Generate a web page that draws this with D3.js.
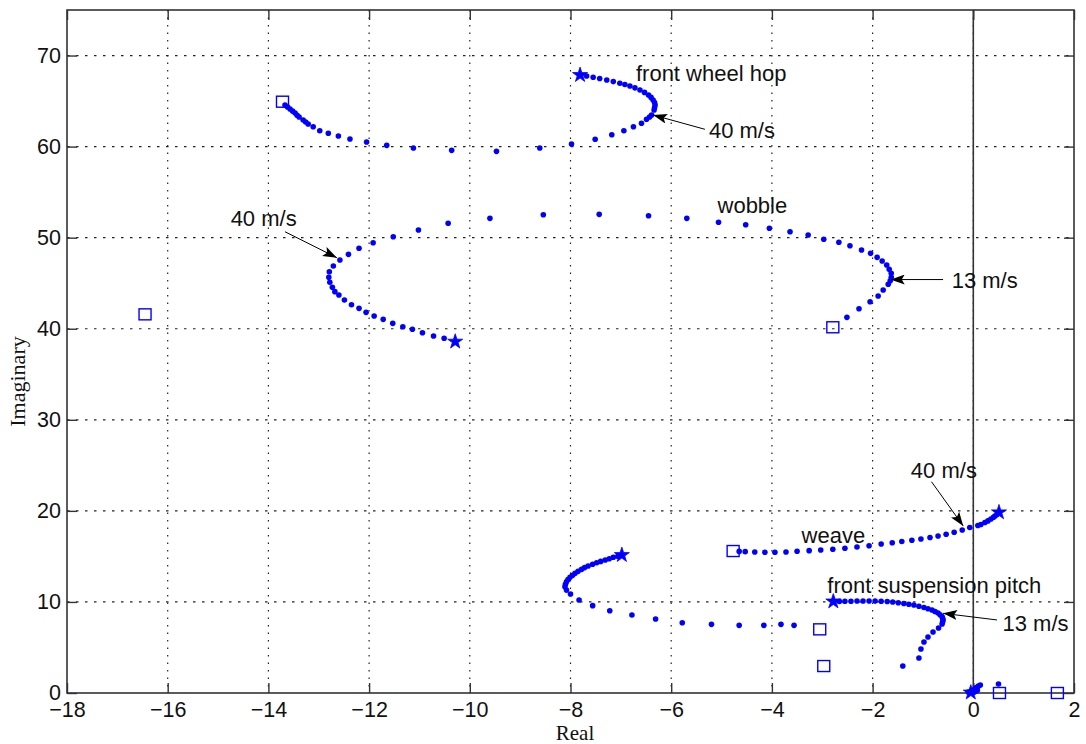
<!DOCTYPE html>
<html><head><meta charset="utf-8">
<script src="https://cdn.jsdelivr.net/npm/d3@7"></script>
<style>body{margin:0;background:#fff;} svg{display:block}</style>
</head><body><svg id="c" width="1086" height="744"></svg>
<script>
// ---- data ----
const xTicks = [-18,-16,-14,-12,-10,-8,-6,-4,-2,0,2];
const yTicks = [0,10,20,30,40,50,60,70];

const hopDots = [[-13.67,64.57],[-13.62,64.35],[-13.57,64.13],[-13.52,63.9],[-13.47,63.69],[-13.43,63.45],[-13.39,63.25],[-13.31,62.92],[-13.26,62.7],[-13.21,62.48],[-13.11,62.18],[-12.98,61.74],[-12.81,61.46],[-12.61,61.16],[-12.38,60.83],[-12.05,60.5],[-11.65,60.14],[-11.12,59.84],[-10.36,59.59],[-9.47,59.48],[-8.61,59.84],[-7.98,60.28],[-7.51,60.80],[-7.18,61.30],[-6.94,61.74],[-6.75,62.18],[-6.59,62.56],[-6.49,63.0],[-6.43,63.25],[-6.39,63.47],[-6.34,64.02],[-6.33,64.3],[-6.32,64.57],[-6.33,64.85],[-6.36,65.11],[-6.40,65.4],[-6.45,65.66],[-6.53,65.95],[-6.62,66.21],[-6.72,66.45],[-6.82,66.65],[-6.92,66.82],[-7.02,66.95],[-7.15,67.14],[-7.28,67.31],[-7.42,67.47],[-7.55,67.61],[-7.68,67.75]];
const hopStar = [-7.81,67.86];
const hopSquare = [-13.72,64.93];

const wobbleDots = [[-10.51,38.95],[-10.72,39.20],[-10.94,39.56],[-11.14,39.94],[-11.33,40.22],[-11.53,40.59],[-11.72,41.03],[-11.90,41.40],[-12.06,41.80],[-12.20,42.24],[-12.35,42.64],[-12.49,43.15],[-12.60,43.70],[-12.68,44.07],[-12.73,44.55],[-12.78,45.10],[-12.80,45.65],[-12.79,46.26],[-12.71,46.89],[-12.58,47.55],[-12.41,48.17],[-12.20,48.83],[-11.92,49.45],[-11.52,50.10],[-11.02,50.84],[-10.43,51.58],[-9.60,52.12],[-8.54,52.52],[-7.43,52.56],[-6.45,52.41],[-5.69,52.12],[-5.06,51.69],[-4.52,51.42],[-4.05,51.03],[-3.64,50.65],[-3.28,50.29],[-2.97,49.82],[-2.67,49.49],[-2.45,49.12],[-2.22,48.64],[-2.04,48.28],[-1.91,47.84],[-1.81,47.44],[-1.72,47.0],[-1.67,46.52],[-1.63,46.09],[-1.63,45.65],[-1.65,45.27],[-1.69,44.88],[-1.79,44.25],[-1.89,43.59],[-2.05,42.97],[-2.27,42.20],[-2.51,41.25]];
const wobbleStar = [-10.29,38.58];
const wobbleSquare = [-2.79,40.16];

const weaveDots = [[-4.65,15.55],[-4.53,15.52],[-4.34,15.48],[-4.14,15.45],[-3.94,15.45],[-3.72,15.48],[-3.50,15.56],[-3.26,15.63],[-3.03,15.70],[-2.79,15.78],[-2.55,15.89],[-2.31,16.03],[-2.07,16.17],[-1.83,16.36],[-1.61,16.50],[-1.42,16.64],[-1.22,16.78],[-1.04,16.91],[-0.86,17.07],[-0.70,17.24],[-0.54,17.43],[-0.38,17.65],[-0.22,17.90],[-0.07,18.17],[0.09,18.39],[0.15,18.5],[0.23,18.72],[0.29,18.9],[0.35,19.11],[0.40,19.3],[0.43,19.44],[0.47,19.6]];
const weaveStar = [0.51,19.84];
const weaveSquare = [-4.77,15.59];

const lowDots = [[-7.06,15.02],[-7.15,14.90],[-7.23,14.75],[-7.31,14.60],[-7.40,14.45],[-7.48,14.31],[-7.56,14.13],[-7.65,13.95],[-7.72,13.77],[-7.78,13.58],[-7.85,13.36],[-7.91,13.14],[-7.96,12.92],[-8.01,12.70],[-8.05,12.46],[-8.08,12.22],[-8.10,11.95],[-8.11,11.67],[-8.08,11.3],[-8.00,10.87],[-7.83,10.21],[-7.56,9.59],[-7.22,9.04],[-6.78,8.56],[-6.31,8.13],[-5.78,7.72],[-5.20,7.54],[-4.65,7.43],[-4.16,7.43],[-3.82,7.54],[-3.56,7.43]];
const lowStar = [-6.98,15.15];

const pitchDots = [[-2.66,10.06],[-2.55,10.07],[-2.43,10.08],[-2.31,10.10],[-2.19,10.10],[-2.07,10.10],[-1.95,10.09],[-1.83,10.08],[-1.71,10.04],[-1.60,9.99],[-1.49,9.91],[-1.38,9.83],[-1.28,9.75],[-1.18,9.66],[-1.08,9.53],[-0.98,9.39],[-0.90,9.25],[-0.82,9.11],[-0.76,8.95],[-0.70,8.78],[-0.66,8.6],[-0.62,8.40],[-0.61,8.2],[-0.60,8.02],[-0.61,7.8],[-0.62,7.58],[-0.69,7.14],[-0.80,6.70],[-0.90,6.15],[-0.98,5.60],[-1.04,4.83],[-1.08,3.84],[-1.40,2.96]];
const pitchStar = [-2.78,10.05];

const originDots = [[-0.1,0.1],[-0.05,0.15],[0.0,0.3],[0.02,0.1],[0.03,0.45],[0.05,0.2],[0.06,0.6],[0.08,0.3],[0.1,0.75],[0.14,0.88],[0.50,0.99]];
const originStar = [-0.05,0.05];

const otherSquares = [[-16.45,41.58],[-3.05,6.99],[-2.97,2.96],[0.52,0],[1.67,0]];

const labels = [
  {text:"front wheel hop", at:[-6.70,67.2]},
  {text:"40 m/s", at:[-5.25,60.94]},
  {text:"wobble", at:[-5.08,52.74]},
  {text:"40 m/s", at:[-14.75,51.28]},
  {text:"13 m/s", at:[-0.43,44.5]},
  {text:"40 m/s", at:[-1.24,23.58]},
  {text:"weave", at:[-3.41,16.5]},
  {text:"front suspension pitch", at:[-2.90,11.01]},
  {text:"13 m/s", at:[0.58,6.84]}
];
const arrows = [
  {from:[-5.33,61.9], to:[-6.36,63.47]},
  {from:[-13.67,50.65], to:[-12.64,47.80]},
  {from:[-0.60,45.4], to:[-1.64,45.4]},
  {from:[-0.83,23.2], to:[-0.20,18.34]},
  {from:[0.47,8.02], to:[-0.60,8.75]}
];

// ---- drawing ----
const svg = d3.select("#c");
const L=67, R=1074, T=10, B=693;
const x = d3.scaleLinear().domain([-18,2]).range([L,R]);
const y = d3.scaleLinear().domain([0,75]).range([B,T]);
const blue = "#0000ff";
const sans = "'Liberation Sans', Arial, Helvetica, sans-serif";
const serif = "'Liberation Serif', 'Times New Roman', serif";

svg.append("rect").attr("width",1086).attr("height",744).attr("fill","#fff");

// grid
svg.append("g").selectAll("line").data(xTicks.filter(t=>t>-18 && t<2)).join("line")
  .attr("x1",d=>x(d)).attr("x2",d=>x(d)).attr("y1",T).attr("y2",B)
  .attr("stroke","#222").attr("stroke-width",1.2).attr("stroke-dasharray","1.5,6");
svg.append("g").selectAll("line").data(yTicks.filter(t=>t>0)).join("line")
  .attr("y1",d=>y(d)).attr("y2",d=>y(d)).attr("x1",L).attr("x2",R)
  .attr("stroke","#222").attr("stroke-width",1.2).attr("stroke-dasharray","2.5,6.5");

// zero line
svg.append("line").attr("x1",x(0)).attr("x2",x(0)).attr("y1",T).attr("y2",B)
  .attr("stroke","#333").attr("stroke-width",1.6);

// axes
function styleAxis(g){
  g.select(".domain").remove();
  g.selectAll(".tick line").attr("stroke","#333").attr("stroke-width",1.4);
  g.selectAll(".tick text").attr("font-family",sans).attr("font-size","21.5px").attr("fill","#111");
}
svg.append("g").attr("transform",`translate(0,${B})`)
  .call(d3.axisBottom(x).tickValues(xTicks).tickSizeInner(-10).tickSizeOuter(0).tickPadding(9))
  .call(styleAxis);
svg.append("g").attr("transform",`translate(0,${T})`)
  .call(d3.axisTop(x).tickValues(xTicks).tickSizeInner(-10).tickSizeOuter(0).tickFormat(""))
  .call(styleAxis);
svg.append("g").attr("transform",`translate(${L},0)`)
  .call(d3.axisLeft(y).tickValues(yTicks).tickSizeInner(-10).tickSizeOuter(0).tickPadding(6))
  .call(styleAxis);
svg.append("g").attr("transform",`translate(${R},0)`)
  .call(d3.axisRight(y).tickValues(yTicks).tickSizeInner(-10).tickSizeOuter(0).tickFormat(""))
  .call(styleAxis);

svg.append("rect").attr("x",L).attr("y",T).attr("width",R-L).attr("height",B-T)
  .attr("fill","none").attr("stroke","#333").attr("stroke-width",1.6);

// axis labels
svg.append("text").attr("x",575).attr("y",740).attr("text-anchor","middle")
  .attr("font-family",serif).attr("font-size","21px").attr("fill","#111").text("Real");
svg.append("text").attr("transform",`translate(25,${(T+B)/2+30}) rotate(-90)`).attr("text-anchor","middle")
  .attr("font-family",serif).attr("font-size","22px").attr("fill","#111").text("Imaginary");

// markers
const allDots = [].concat(hopDots, wobbleDots, weaveDots, lowDots, pitchDots, originDots);
svg.append("g").selectAll("circle").data(allDots).join("circle")
  .attr("cx",d=>x(d[0])).attr("cy",d=>y(d[1])).attr("r",2.8).attr("fill",blue);

const squares = [hopSquare, wobbleSquare, weaveSquare].concat(otherSquares);
svg.append("g").selectAll("rect").data(squares).join("rect")
  .attr("x",d=>x(d[0])-6).attr("y",d=>y(d[1])-5.5).attr("width",12).attr("height",11)
  .attr("fill","none").attr("stroke",blue).attr("stroke-width",1.4);

const stars = [hopStar, wobbleStar, weaveStar, lowStar, pitchStar, originStar];
svg.append("g").selectAll("path").data(stars).join("path")
  .attr("d", d3.symbol(d3.symbolStar, 70))
  .attr("transform",d=>`translate(${x(d[0])},${y(d[1])})`)
  .attr("fill",blue).attr("stroke",blue).attr("stroke-width",0.8);

// annotations
const defs = svg.append("defs");
defs.append("marker").attr("id","ah").attr("markerUnits","userSpaceOnUse")
  .attr("markerWidth",14).attr("markerHeight",10).attr("refX",14).attr("refY",5).attr("orient","auto")
  .append("path").attr("d","M0,0 L14,5 L0,10 L3,5 z").attr("fill","#000");
svg.append("g").selectAll("line").data(arrows).join("line")
  .attr("x1",d=>x(d.from[0])).attr("y1",d=>y(d.from[1]))
  .attr("x2",d=>x(d.to[0])).attr("y2",d=>y(d.to[1]))
  .attr("stroke","#000").attr("stroke-width",1).attr("marker-end","url(#ah)");
svg.append("g").selectAll("text").data(labels).join("text")
  .attr("x",d=>x(d.at[0])).attr("y",d=>y(d.at[1]))
  .attr("font-family",sans).attr("font-size","22px").attr("fill","#111").text(d=>d.text);
</script></body></html>
